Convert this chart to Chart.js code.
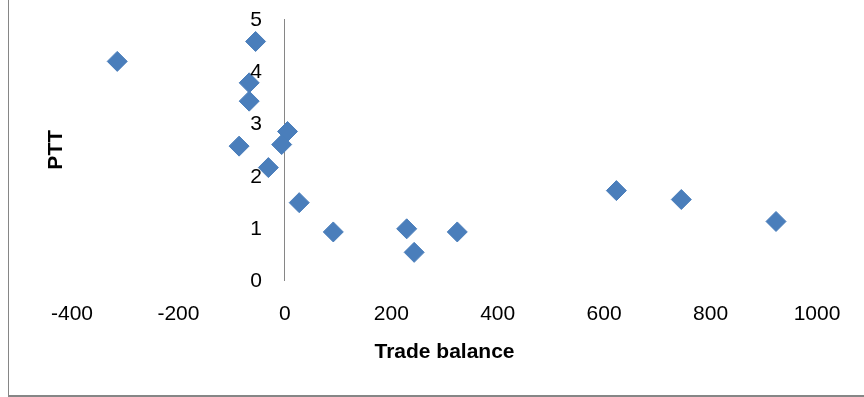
<!DOCTYPE html>
<html>
<head>
<meta charset="utf-8">
<script src="https://cdn.jsdelivr.net/npm/chart.js@4.4.1/dist/chart.umd.min.js"></script>
<style>
  html, body { margin: 0; padding: 0; background: #ffffff; }
  canvas { display: block; }
</style>
</head>
<body>
<canvas id="chart" width="864" height="397"></canvas>
<script>
// Trade balance (x) against PTT (y)
const tradeBalance = [-315, -55, -67, -67, 5, -86, -6, -31, 27, 91, 229, 243, 324, 623, 745, 923];
const ptt          = [4.19, 4.57, 3.78, 3.43, 2.85, 2.57, 2.60, 2.16, 1.49, 0.93, 0.99, 0.54, 0.93, 1.72, 1.55, 1.13];

const xTickValues = [-400, -200, 0, 200, 400, 600, 800, 1000];
const yTickValues = [0, 1, 2, 3, 4, 5];

const xTitle = 'Trade balance';
const yTitle = 'PTT';

const points = tradeBalance.map((x, i) => ({ x: x, y: ptt[i] }));

const FONT = "'Liberation Sans', Arial, sans-serif";

// White background, outer frame lines, the y tick labels beside the
// vertical axis (which crosses at x = 0) and the rotated y-axis title
const framePlugin = {
  id: 'frame',
  beforeDraw(chart) {
    const { ctx, width } = chart;
    ctx.save();
    ctx.fillStyle = '#ffffff';
    ctx.fillRect(0, 0, chart.width, chart.height);
    ctx.strokeStyle = '#868686';
    ctx.lineWidth = 1;
    ctx.beginPath();
    ctx.moveTo(8.5, 0);
    ctx.lineTo(8.5, 395);
    ctx.stroke();
    ctx.lineWidth = 2;
    ctx.beginPath();
    ctx.moveTo(8, 396);
    ctx.lineTo(width, 396);
    ctx.stroke();
    ctx.restore();
  },
  afterDraw(chart) {
    const { ctx, chartArea } = chart;
    const xs = chart.scales.x;
    const ys = chart.scales.y;
    ctx.save();
    ctx.fillStyle = '#000000';
    ctx.font = '21px ' + FONT;
    ctx.textAlign = 'right';
    ctx.textBaseline = 'middle';
    const axisX = xs.getPixelForValue(0);
    yTickValues.forEach(v => {
      ctx.fillText(String(v), axisX - 23, ys.getPixelForValue(v) + 1);
    });
    ctx.restore();

    ctx.save();
    ctx.translate(chartArea.left - 16, (chartArea.top + chartArea.bottom) / 2);
    ctx.rotate(-Math.PI / 2);
    ctx.font = 'bold 21px ' + FONT;
    ctx.fillStyle = '#000000';
    ctx.textAlign = 'center';
    ctx.textBaseline = 'middle';
    ctx.fillText(yTitle, 0, 0);
    ctx.restore();
  }
};

new Chart(document.getElementById('chart'), {
  type: 'scatter',
  data: {
    datasets: [{
      data: points,
      pointStyle: 'rectRot',
      pointRadius: 10,
      pointHoverRadius: 10,
      backgroundColor: '#4a7ebb',
      borderColor: '#4a7ebb',
      borderWidth: 1,
      showLine: false
    }]
  },
  options: {
    responsive: false,
    animation: false,
    events: [],
    layout: { padding: { left: 72, right: 47, top: 19, bottom: 32 } },
    plugins: {
      legend: { display: false },
      tooltip: { enabled: false }
    },
    scales: {
      x: {
        type: 'linear',
        position: 'bottom',
        min: -400,
        max: 1000,
        afterBuildTicks: s => { s.ticks = xTickValues.map(v => ({ value: v })); },
        grid: { display: false, drawTicks: false },
        border: { display: false },
        ticks: {
          autoSkip: false,
          maxRotation: 0,
          padding: 21,
          color: '#000000',
          font: { family: FONT, size: 21 },
          callback: v => String(v)
        },
        title: {
          display: true,
          text: xTitle,
          color: '#000000',
          font: { family: FONT, size: 21, weight: 'bold' },
          padding: { top: -8, bottom: 0 }
        }
      },
      y: {
        type: 'linear',
        position: { x: 0 },
        min: 0,
        max: 5,
        afterBuildTicks: s => { s.ticks = yTickValues.map(v => ({ value: v })); },
        grid: { display: false, drawTicks: false },
        border: { display: true, color: '#868686', width: 1 },
        ticks: { display: false }
      }
    }
  },
  plugins: [framePlugin]
});
</script>
</body>
</html>
